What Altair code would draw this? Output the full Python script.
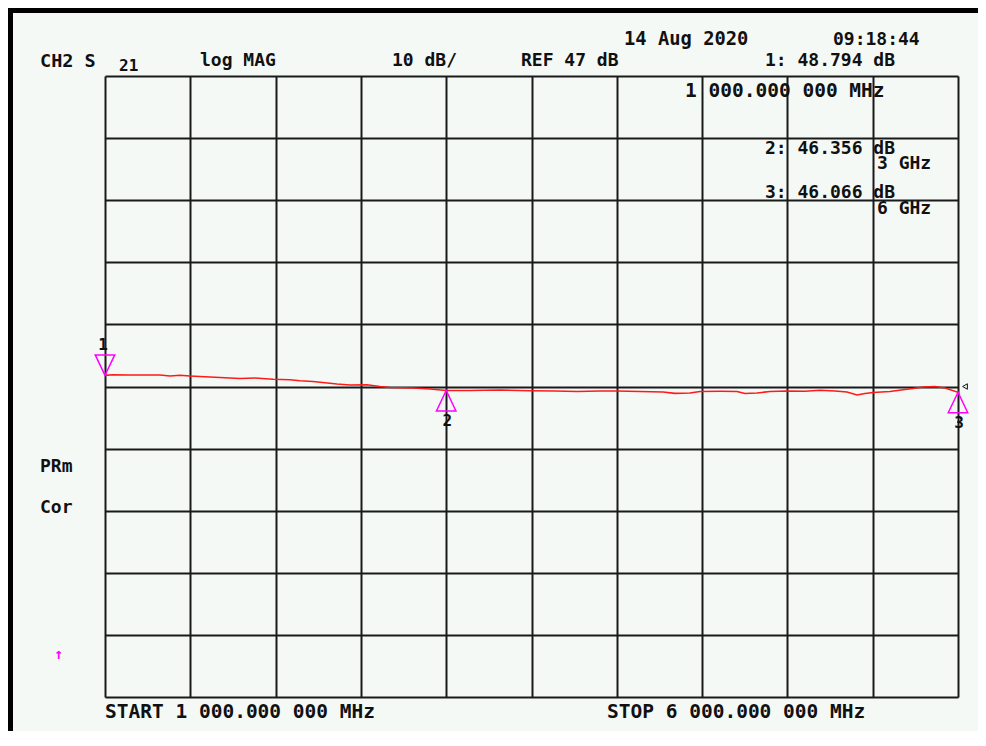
import altair as alt
import pandas as pd

# ---- trace data (S21, log MAG) ----
FREQ_GHZ = [1.000, 1.047, 1.147, 1.322, 1.381, 1.440, 1.498, 1.586, 1.674, 1.791,
            1.879, 1.985, 2.084, 2.143, 2.219, 2.290, 2.360, 2.436, 2.536, 2.612,
            2.671, 2.805, 2.905, 3.000, 3.140, 3.315, 3.491, 3.638, 3.767, 3.902,
            4.001, 4.136, 4.271, 4.341, 4.429, 4.488, 4.605, 4.705, 4.751, 4.822,
            4.898, 4.998, 5.103, 5.191, 5.279, 5.349, 5.408, 5.455, 5.502, 5.601,
            5.689, 5.736, 5.795, 5.865, 5.924, 6.000]
S21_DB = [48.794, 48.88, 48.85, 48.85, 48.69, 48.80, 48.69, 48.56, 48.45, 48.29,
          48.37, 48.16, 48.08, 47.92, 47.81, 47.60, 47.40, 47.24, 47.27, 47.00,
          46.84, 46.76, 46.60, 46.356, 46.36, 46.44, 46.32, 46.28, 46.20, 46.28,
          46.28, 46.20, 46.11, 45.90, 45.95, 46.20, 46.23, 46.20, 45.87, 45.95,
          46.20, 46.28, 46.23, 46.40, 46.28, 46.11, 45.63, 45.87, 46.03, 46.20,
          46.52, 46.68, 46.92, 47.00, 46.76, 46.066]

# ---- markers ----
MARKER_FREQ = [1.0, 3.0, 6.0]
MARKER_DB = [48.794, 46.356, 46.066]
MARKER_LABEL = ["1", "2", "3"]
MARKER_DIR = ["down", "up", "up"]

# ---- scale ----
REF_DB = 47
DB_PER_DIV = 10
START_GHZ = 1.0
STOP_GHZ = 6.0

X_GRID = [START_GHZ + i * 0.5 for i in range(11)]
Y_GRID = [REF_DB - 5 * DB_PER_DIV + i * DB_PER_DIV for i in range(11)]

trace = pd.DataFrame({"f": FREQ_GHZ, "db": S21_DB})
markers = pd.DataFrame({"f": MARKER_FREQ, "db": MARKER_DB,
                        "label": MARKER_LABEL, "dir": MARKER_DIR})
one = pd.DataFrame({"a": [0]})

FONT = "DejaVu Sans Mono"
MAGENTA = "#ff00ff"
BG = "#f5f9f6"

xs = alt.Scale(domain=[START_GHZ, STOP_GHZ], nice=False, zero=False)
ys = alt.Scale(domain=[Y_GRID[0], Y_GRID[-1]], nice=False, zero=False)
x_axis = alt.Axis(values=X_GRID, grid=True, gridColor="#1a1a1a", gridWidth=2,
                  gridOpacity=1, labels=False, ticks=False, domain=False, title=None)
y_axis = alt.Axis(values=Y_GRID, grid=True, gridColor="#1a1a1a", gridWidth=2,
                  gridOpacity=1, labels=False, ticks=False, domain=False, title=None)

base = alt.Chart(trace).mark_line(color="#ff1a1a", strokeWidth=1.6, clip=True).encode(
    x=alt.X("f:Q", scale=xs, axis=x_axis),
    y=alt.Y("db:Q", scale=ys, axis=y_axis),
)

PATH_DOWN = "M0,0L-1,-2.1L1,-2.1Z"
PATH_UP = "M0,0L-1,2.1L1,2.1Z"

mk = alt.Chart(markers).mark_point(filled=False, stroke=MAGENTA, strokeWidth=1.5,
                                    size=380, opacity=1).encode(
    x=alt.X("f:Q", scale=xs),
    y=alt.Y("db:Q", scale=ys),
    shape=alt.Shape("dir:N", scale=alt.Scale(domain=["down", "up"],
                                             range=[PATH_DOWN, PATH_UP]), legend=None),
)

mk_lab_down = alt.Chart(markers).transform_filter(alt.datum.dir == "down").mark_text(
    font=FONT, fontWeight="bold", fontSize=16, color="#111", dy=-30, dx=-2
).encode(x=alt.X("f:Q", scale=xs), y=alt.Y("db:Q", scale=ys), text="label:N")

mk_lab_up = alt.Chart(markers).transform_filter(alt.datum.dir == "up").mark_text(
    font=FONT, fontWeight="bold", fontSize=16, color="#111", dy=31, dx=1
).encode(x=alt.X("f:Q", scale=xs), y=alt.Y("db:Q", scale=ys), text="label:N")

ref_ind = alt.Chart(pd.DataFrame({"f": [STOP_GHZ], "db": [REF_DB]})).mark_point(
    shape="triangle-left", filled=False, stroke="#111", strokeWidth=1, size=30,
    xOffset=7, opacity=1
).encode(x=alt.X("f:Q", scale=xs), y=alt.Y("db:Q", scale=ys))

# plot-area origin on the page
OX, OY = 105, 76


def label(text, px, py, size=18, color="#111"):
    return alt.Chart(one).mark_text(
        text=text, font=FONT, fontWeight="bold", fontSize=size, color=color,
        align="left", baseline="alphabetic"
    ).encode(x=alt.value(px - OX), y=alt.value(py - OY))


texts = [
    label("CH2 S", 40, 67, size=18.5),
    label("21", 119, 71, size=16),
    label("log MAG", 200, 66),
    label("10 dB/", 392, 66),
    label("REF 47 dB", 521, 66),
    label("14 Aug 2020", 624, 45, size=18.8),
    label("09:18:44", 833, 45),
    label("1: 48.794 dB", 765, 66),
    label("1 000.000 000 MHz", 685, 97, size=19.5),
    label("2: 46.356 dB", 765, 154),
    label("3 GHz", 877, 169),
    label("3: 46.066 dB", 765, 198),
    label("6 GHz", 877, 214),
    label("PRm", 40, 472),
    label("Cor", 40, 513),
    label("START 1 000.000 000 MHz", 105, 718, size=19.5),
    label("STOP 6 000.000 000 MHz", 607, 718, size=19.5),
    label("↑", 54, 659, size=15, color=MAGENTA),
]

border_top = alt.Chart(one).mark_rule(color="#000", strokeWidth=5).encode(
    x=alt.value(8 - OX), x2=alt.value(986 - OX), y=alt.value(10.5 - OY))
border_left = alt.Chart(one).mark_rule(color="#000", strokeWidth=5).encode(
    x=alt.value(10.5 - OX), y=alt.value(8 - OY), y2=alt.value(746 - OY))

chart = alt.layer(base, mk, mk_lab_down, mk_lab_up, ref_ind, border_top, border_left,
                  *texts).properties(
    width=853, height=621,
    padding={"left": 97, "top": 68, "right": 20, "bottom": 34},
    autosize=alt.AutoSizeParams(type="none"),
    background=BG,
).configure_view(stroke=None)

chart.save("out.html", embed_options={"renderer": "svg", "actions": False})
